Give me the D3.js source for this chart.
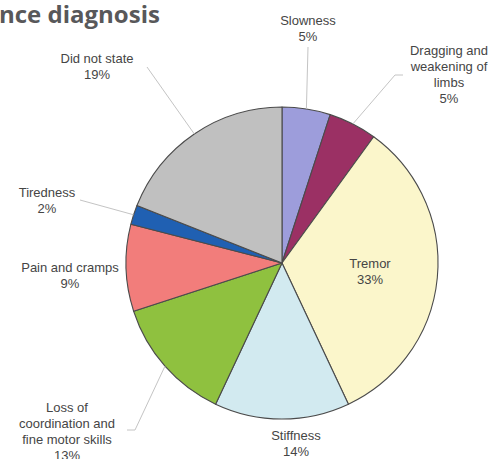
<!DOCTYPE html>
<html>
<head>
<meta charset="utf-8">
<script src="https://cdn.jsdelivr.net/npm/d3@7"></script>
<style>
    body { margin: 0; background: #fff; }
    svg { display: block; }
</style>
</head>
<body>
<div id="chart"></div>
<script>
// chart values, clockwise from 12 o'clock
var categories = ["Slowness", "Dragging and weakening of limbs", "Tremor", "Stiffness",
    "Loss of coordination and fine motor skills", "Pain and cramps", "Tiredness", "Did not state"];
var values = [5, 5, 33, 14, 13, 9, 2, 19];
var labelText = [
    ["Slowness"],
    ["Dragging and", "weakening of", "limbs"],
    ["Tremor"],
    ["Stiffness"],
    ["Loss of", "coordination and", "fine motor skills"],
    ["Pain and cramps"],
    ["Tiredness"],
    ["Did not state"]
];
var colors = ["#9d9ddb", "#9b3064", "#fbf6cb", "#d2eaf0", "#8fc13f", "#f27d7b", "#2060b2", "#c0c0c0"];

// where each label sits (centre of first line) and where its leader line leaves the text
var labelPos = [
    { x: 308, y: 20, lead: [[308, 47]] },
    { x: 449, y: 50, lead: [[403, 75], [395, 75]] },
    { x: 370, y: 263, lead: null },
    { x: 296, y: 435, lead: null },
    { x: 67, y: 407, lead: [[127, 430], [135, 430]] },
    { x: 70, y: 267, lead: null },
    { x: 47, y: 192, lead: [[80, 200]] },
    { x: 97, y: 58, lead: [[147, 67]] }
];

var w = 496, h = 459;
var cx = 282, cy = 263, r = 156;
var lineH = 16;

var svg = d3.select("#chart")
    .append("svg")
    .attr("width", w)
    .attr("height", h);

// cropped heading
svg.append("text")
    .attr("x", -1)
    .attr("y", 23)
    .attr("font-family", "'Open Sans', sans-serif")
    .attr("font-weight", "bold")
    .attr("font-size", 24)
    .attr("fill", "#58585a")
    .text("nce diagnosis");

var pie = d3.pie().sort(null).value(function (d) { return d; });
var arcs = pie(values);
var arc = d3.arc().innerRadius(0).outerRadius(r);

var g = svg.append("g")
    .attr("transform", "translate(" + cx + "," + cy + ")");

g.selectAll("path")
    .data(arcs)
    .enter()
    .append("path")
    .attr("d", arc)
    .attr("fill", function (d, i) { return colors[i]; })
    .attr("stroke", "#4b4b4b")
    .attr("stroke-width", 1.1)
    .attr("stroke-linejoin", "round");

// leader lines: from label to the slice edge at its mid angle
var line = d3.line();
arcs.forEach(function (d, i) {
    var p = labelPos[i];
    if (!p.lead) return;
    var mid = (d.startAngle + d.endAngle) / 2;
    var edge = [cx + r * Math.sin(mid), cy - r * Math.cos(mid)];
    svg.append("path")
        .attr("d", line(p.lead.concat([edge])))
        .attr("fill", "none")
        .attr("stroke", "#c4c4c4")
        .attr("stroke-width", 1);
});

// labels
var labels = svg.selectAll("g.lbl")
    .data(arcs)
    .enter()
    .append("g")
    .attr("class", "lbl");

labels.each(function (d, i) {
    var p = labelPos[i];
    var lines = labelText[i].concat([Math.round(d.value) + "%"]);
    var t = d3.select(this).append("text")
        .attr("font-family", "'Liberation Sans', Arial, sans-serif")
        .attr("font-size", 13)
        .attr("fill", "#454545")
        .attr("text-anchor", "middle");
    lines.forEach(function (s, k) {
        t.append("tspan")
            .attr("x", p.x)
            .attr("y", p.y + k * lineH)
            .attr("dy", "0.35em")
            .text(s);
    });
});
</script>
</body>
</html>
